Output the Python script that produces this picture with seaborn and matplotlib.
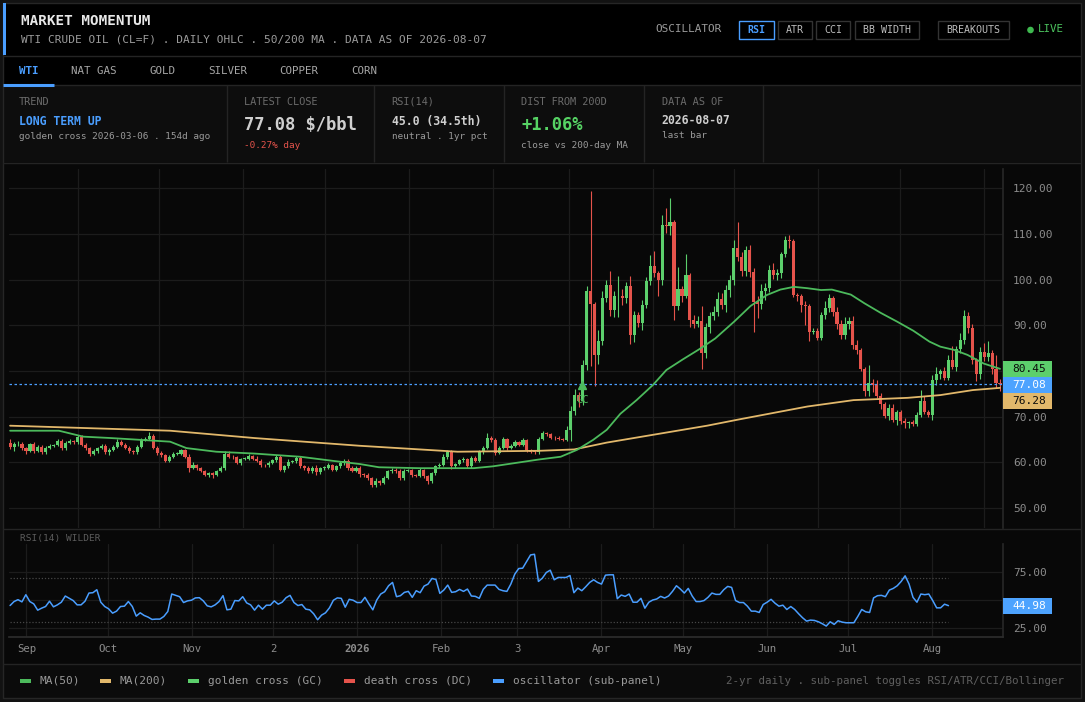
import numpy as np
import pandas as pd
import seaborn as sns
import matplotlib.pyplot as plt
from matplotlib.patches import Rectangle, Circle

W, H = 1085, 702
START = pd.Timestamp("2025-08-07")

# ---------------- data ----------------
first_open = 64.3

# daily closes, Aug 2025 -> Aug 7 2026
closes = [
    # Aug - mid Dec
    63.4, 63.9, 64.1, 63.1, 62.5, 63.9, 62.5, 63.4, 62.2, 63.2,
    63.6, 63.8, 64.7, 63.1, 64.2, 64.7, 64.4, 65.6, 63.8, 63.1,
    61.8, 62.5, 63.1, 63.6, 62.2, 62.7, 63.4, 64.5, 63.8, 63.2,
    62.5, 62.3, 63.4, 64.9, 65.1, 65.8, 63.2, 62.0, 61.6, 60.3,
    61.2, 61.8, 61.9, 62.6, 61.2, 58.8, 59.4, 58.7, 58.1, 57.2,
    57.6, 57.2, 58.1, 58.7, 61.9, 61.2, 61.1, 59.9, 60.7, 60.8,
    61.3, 60.7, 60.3, 59.4, 59.3, 59.9, 60.4, 61.2, 58.3, 59.1,
    60.1, 60.2, 60.9, 59.1, 58.8, 58.0, 58.8, 57.8, 58.7, 58.8,
    59.4, 58.3, 59.1, 59.8, 60.3, 58.7, 58.1, 58.8, 57.4,
    # mid Dec - late Apr
    57.2, 56.5, 55.0, 55.9, 55.5, 56.6, 58.0, 58.4, 58.1, 56.5,
    58.1, 58.2, 57.2, 57.0, 58.3, 56.9, 55.8, 57.6, 59.1, 59.4,
    61.2, 62.2, 59.1, 59.6, 60.4, 60.6, 59.1, 61.0, 60.3, 62.2,
    63.1, 65.3, 64.9, 62.0, 63.2, 65.1, 63.2, 63.6, 64.4, 63.8,
    64.8, 62.6, 62.3, 62.2, 65.1, 66.4, 66.1, 65.4, 65.2, 65.1,
    64.9, 67.1, 71.3, 74.7, 73.5, 81.3, 97.5, 94.6, 83.4, 86.6,
    95.9, 98.7, 93.4, 96.3, 96.5, 95.9, 98.5, 87.9, 92.3, 90.5,
    94.5, 99.7, 103.0, 101.4, 99.9, 112.0, 111.7, 112.6, 94.3, 98.0,
    96.5, 101.0, 91.2, 90.3, 91.0, 83.9, 89.7, 92.1, 93.0, 95.8,
    94.5,
    # late Apr - Aug
    97.7, 99.9, 106.9, 105.0, 101.8, 106.5, 101.6, 95.0, 94.6, 97.5,
    98.2, 102.1, 101.0, 101.4, 105.5, 108.7, 108.4, 96.6, 96.3, 94.5,
    94.1, 88.6, 88.8, 87.2, 92.3, 93.8, 95.9, 93.0, 90.2, 87.9,
    90.2, 91.0, 85.7, 84.6, 80.4, 75.5, 77.3, 76.9, 74.6, 72.7,
    70.2, 71.8, 69.2, 71.0, 69.1, 68.5, 68.8, 68.4, 70.4, 73.4,
    71.0, 70.3, 78.0, 79.3, 79.9, 78.5, 82.4, 80.9, 84.9, 86.8,
    92.1, 89.3, 82.4, 79.3, 84.2, 83.1, 84.0, 80.4, 77.29, 77.08,
]

# how far each high / low reaches past the candle body
wick_hi = [
    0.8, 0.6, 0.5, 0.4, 0.3, 0.3, 0.6, 0.3, 0.4, 0.4,
    0.3, 0.3, 0.4, 0.3, 0.5, 0.3, 0.2, 0.4, 0.3, 0.4,
    0.3, 0.4, 0.3, 0.3, 0.3, 0.4, 0.3, 0.5, 0.3, 0.4,
    0.3, 0.2, 0.4, 0.5, 0.4, 0.9, 0.3, 0.3, 0.5, 0.3,
    0.4, 0.4, 0.3, 0.4, 0.3, 0.5, 0.6, 0.3, 0.2, 0.3,
    0.3, 0.3, 0.3, 0.4, 0.5, 0.5, 0.4, 0.3, 0.3, 0.3,
    0.5, 0.3, 0.6, 0.4, 0.3, 0.3, 0.3, 0.4, 0.3, 0.3,
    0.5, 0.3, 0.5, 0.4, 0.4, 0.3, 0.3, 0.5, 0.3, 0.3,
    0.4, 0.3, 0.4, 0.5, 0.4, 0.3, 0.4, 0.3, 0.3,
    0.3, 0.4, 0.3, 0.6, 0.3, 0.3, 0.4, 0.3, 0.3, 0.4,
    0.4, 0.3, 0.3, 0.3, 0.4, 0.3, 0.3, 0.3, 0.3, 0.5,
    0.6, 0.5, 0.4, 0.3, 0.4, 0.5, 0.3, 0.4, 0.3, 0.4,
    0.4, 1.0, 0.5, 0.4, 0.3, 0.4, 0.3, 0.5, 0.4, 0.3,
    0.5, 0.3, 0.3, 0.4, 0.4, 0.5, 0.3, 0.4, 0.4, 0.5,
    0.3, 0.8, 1.0, 1.3, 0.7, 1.0, 1.0, 21.9, 0.4, 2.4,
    1.5, 1.2, 3.1, 1.2, 4.2, 1.5, 1.0, 2.2, 0.8, 0.5,
    1.0, 0.8, 2.4, 3.3, 0.4, 2.2, 3.6, 5.2, 0.5, 4.8,
    0.5, 4.5, 0.5, 1.0, 1.0, 3.1, 0.8, 0.8, 1.2, 1.5,
    1.2,
    1.0, 1.0, 1.8, 5.7, 1.0, 0.9, 1.0, 1.0, 1.5, 1.5,
    1.0, 1.0, 1.5, 0.8, 0.5, 0.9, 1.0, 0.4, 0.5, 0.5,
    0.8, 0.5, 0.5, 0.5, 0.5, 1.5, 1.0, 0.5, 1.0, 1.0,
    1.5, 0.8, 1.0, 1.0, 0.5, 0.5, 4.0, 1.0, 1.0, 0.5,
    0.5, 1.0, 1.0, 0.5, 0.5, 0.5, 0.3, 0.5, 0.5, 2.5,
    1.0, 0.5, 1.0, 1.5, 0.5, 1.0, 1.0, 3.0, 0.5, 1.5,
    1.3, 0.8, 1.0, 0.5, 1.0, 2.0, 2.5, 0.5, 3.0, 1.0,
]
wick_lo = [
    0.5, 0.9, 0.4, 0.4, 0.6, 0.3, 0.4, 0.3, 0.4, 0.4,
    0.3, 0.3, 0.3, 0.5, 0.4, 0.3, 0.3, 0.3, 0.3, 0.5,
    0.5, 0.3, 0.4, 0.3, 0.4, 0.6, 0.3, 0.3, 0.3, 0.3,
    0.4, 0.5, 0.5, 0.3, 0.3, 0.3, 0.3, 0.4, 0.4, 0.3,
    0.3, 0.3, 0.3, 0.3, 0.3, 0.9, 0.3, 0.4, 0.3, 0.3,
    0.5, 0.6, 0.3, 0.3, 0.3, 0.3, 0.5, 0.3, 0.4, 0.3,
    0.3, 0.3, 0.3, 0.5, 0.3, 0.3, 0.3, 0.3, 0.3, 0.4,
    0.4, 0.3, 0.3, 0.4, 0.5, 0.4, 0.4, 0.5, 0.3, 0.3,
    0.3, 0.3, 0.3, 0.3, 0.3, 0.3, 0.3, 0.3, 0.6,
    0.4, 0.3, 0.5, 0.4, 0.4, 0.3, 0.3, 0.3, 0.4, 0.5,
    0.3, 0.3, 0.4, 0.3, 0.3, 0.4, 0.5, 0.3, 0.3, 0.3,
    0.3, 0.4, 0.5, 0.3, 0.3, 0.4, 0.4, 0.3, 0.3, 0.3,
    0.3, 0.3, 0.4, 0.5, 0.3, 0.3, 0.5, 0.3, 0.3, 0.3,
    0.3, 0.4, 0.3, 0.4, 0.3, 0.3, 0.3, 0.3, 0.3, 0.3,
    0.3, 0.3, 2.5, 1.0, 1.5, 1.0, 1.0, 13.6, 6.8, 1.9,
    1.0, 0.8, 1.4, 1.5, 4.4, 1.5, 1.0, 2.1, 1.5, 1.0,
    1.5, 0.8, 1.0, 0.8, 3.5, 1.0, 1.5, 2.0, 3.1, 1.0,
    1.5, 0.5, 1.5, 1.0, 0.8, 3.5, 1.0, 1.5, 1.0, 1.0,
    1.0,
    1.5, 1.5, 1.0, 1.0, 1.0, 1.0, 1.0, 6.4, 3.0, 1.0,
    2.0, 1.0, 0.8, 1.0, 1.0, 0.5, 1.5, 0.4, 1.0, 1.5,
    4.0, 2.0, 0.5, 0.5, 0.5, 1.0, 1.0, 1.0, 1.0, 1.0,
    1.0, 1.0, 1.0, 1.0, 0.5, 1.0, 1.0, 1.5, 0.5, 1.0,
    0.5, 1.0, 0.5, 1.0, 0.7, 1.0, 1.0, 0.5, 0.5, 0.5,
    0.5, 0.5, 1.0, 1.0, 1.0, 0.5, 0.5, 0.5, 1.0, 1.0,
    1.0, 1.0, 1.0, 1.5, 1.0, 1.0, 1.0, 1.0, 1.0, 1.5,
]

# moving averages, sampled (day offset from first bar, value)
ma50_day = [0, 18, 27, 37, 59, 65, 76, 90, 107, 119, 129, 136, 151, 171, 178, 195,
            203, 209, 215, 220, 225, 231, 237, 242, 248, 254, 260, 267, 273, 279,
            284, 289, 294, 299, 303, 310, 315, 321, 327, 333, 339, 343, 348, 353,
            359, 365]
ma50 = [66.9, 66.9, 65.6, 65.3, 64.5, 63.1, 62.3, 61.9, 61.2, 60.3, 59.6, 58.9, 58.7,
        58.7, 59.1, 60.6, 61.2, 62.7, 64.9, 67.1, 70.6, 73.6, 76.9, 80.2, 82.5, 84.7,
        87.1, 90.8, 94.2, 96.6, 97.8, 98.4, 98.1, 97.7, 97.8, 96.7, 94.8, 92.7, 90.8,
        88.8, 86.4, 85.3, 84.6, 83.5, 81.6, 80.45]
ma200_day = [0, 59, 90, 129, 165, 195, 208, 220, 237, 257, 269, 294, 311, 331, 343,
             355, 365]
ma200 = [68.0, 66.9, 65.3, 63.6, 62.3, 62.5, 62.8, 64.3, 66.0, 68.0, 69.4, 72.2, 73.6,
         74.1, 74.7, 75.8, 76.28]

# RSI(14) Wilder, from 2025-08-26 to the last bar
rsi_first = "2025-08-26"
rsi = [
    45.1, 48.7, 50.4, 48.4, 54.9, 48.7, 46.6, 40.9, 42.7, 44.2,
    49.0, 43.9, 45.7, 48.1, 53.7, 51.6, 49.6, 45.7, 45.7, 49.0,
    56.4, 56.7, 59.4, 48.1, 44.2, 42.1, 38.2, 40.0, 44.2, 44.5,
    48.7, 44.2, 35.5, 38.5, 36.1, 34.6, 32.5, 32.8, 32.8, 35.2,
    39.7, 55.5, 54.3, 53.1, 47.8, 49.3, 49.9, 52.0, 52.2, 49.3,
    44.8, 43.9, 45.7, 48.7, 54.0, 41.2, 41.8, 49.6, 49.3, 53.1,
    47.5, 45.7, 40.9, 45.4, 41.8, 45.4, 45.4, 49.3, 46.3, 48.1,
    52.2, 54.3, 47.8, 45.1, 46.0, 41.8, 41.2, 37.6, 32.2, 36.4,
    38.5, 43.0, 49.9, 52.0, 51.6, 43.6, 50.7, 49.9, 47.8, 47.8,
    52.5, 46.6, 41.2, 50.1, 55.5, 57.6, 63.0, 66.0, 53.1, 54.0,
    57.0, 57.9, 52.5, 58.5, 56.7, 62.7, 64.5, 69.6, 68.7, 56.1,
    59.1, 63.6, 57.0, 57.6, 59.7, 57.9, 60.0, 53.7, 53.4, 51.6,
    59.7, 63.6, 63.6, 63.6, 59.7, 58.5, 57.9, 64.5, 73.5, 78.6,
    78.9, 84.9, 90.9, 91.5, 66.9, 69.9, 75.0, 77.1, 68.4, 70.5,
    70.5, 70.5, 72.3, 56.7, 60.9, 58.5, 62.1, 66.0, 68.4, 66.0,
    64.5, 72.6, 72.9, 72.9, 51.3, 54.6, 53.4, 55.5, 48.1, 48.1,
    51.6, 42.7, 48.1, 50.1, 51.0, 53.4, 51.9, 53.7, 57.9, 63.0,
    60.0, 56.4, 60.6, 53.7, 48.7, 48.7, 49.6, 52.5, 56.4, 55.2,
    55.2,
    59.4, 62.4, 61.5, 49.6, 47.8, 47.8, 44.5, 40.0, 40.0, 38.8,
    46.0, 48.1, 50.7, 47.2, 44.5, 45.4, 41.5, 44.2, 41.5, 37.6,
    34.0, 31.0, 31.9, 31.6, 30.4, 28.6, 26.5, 30.4, 28.0, 31.3,
    30.1, 29.5, 29.5, 29.5, 35.2, 41.5, 39.4, 38.8, 52.0, 54.0,
    54.3, 53.1, 59.1, 60.6, 63.0, 66.9, 72.0, 64.5, 52.5, 48.1,
    55.5, 54.9, 55.5, 49.6, 43.0, 43.0, 46.3, 44.98,
]

month_labels = ["Sep", "Oct", "Nov", "2", "2026", "Feb", "3", "Apr", "May", "Jun", "Jul", "Aug"]
gc_date = "2026-03-06"
gc_price = 76.9

# ---------------- colours ----------------
GREEN = "#5ccf6c"
MA_GREEN = "#4cba5c"
RED = "#e5534b"
BLUE = "#4a9eff"
TAN = "#e2b86b"
GRID = "#1c1c1c"
TICK = "#8c8c8c"

sns.set_theme(style="dark")
plt.rcParams["font.family"] = ["DejaVu Sans Mono", "DejaVu Sans"]

fig = plt.figure(figsize=(W / 100, H / 100), dpi=100)
fig.patch.set_facecolor("#121212")

# pixel-space background layer
bg = fig.add_axes([0, 0, 1, 1], zorder=0)
bg.set_xlim(0, W)
bg.set_ylim(H, 0)
bg.axis("off")


def box(a, x0, y0, x1, y1, fc, ec="none", lw=1.0):
    a.add_patch(Rectangle((x0, y0), x1 - x0, y1 - y0, facecolor=fc, edgecolor=ec, lw=lw))


def hline(y, x0=3, x1=1081, c="#242424", lw=1.0):
    bg.plot([x0, x1], [y, y], color=c, lw=lw, solid_capstyle="butt")


def vline(x, y0, y1, c="#242424", lw=1.0):
    bg.plot([x, x], [y0, y1], color=c, lw=lw, solid_capstyle="butt")


def txt(x, y, s, size=7.5, color="#9a9a9a", **kw):
    bg.text(x, y, s, fontsize=size, color=color, va="center", **kw)


box(bg, 3, 3, 1081, 85, "#000000")
box(bg, 3, 85, 1081, 162, "#0d0d0d")
box(bg, 3, 162, 1081, 664, "#080808")
box(bg, 3, 664, 1081, 698, "#0b0b0b")
box(bg, 3, 3, 1081, 698, "none", ec="#262626")
box(bg, 3, 3, 5.5, 55, BLUE)
hline(56)
hline(85)
hline(162.5)
hline(529)
hline(664)
hline(85, 3, 54, c=BLUE, lw=2.2)
for xs in [227, 374, 504, 644, 762.5]:
    vline(xs, 85, 162)

# header
txt(21.3, 20.7, "MARKET MOMENTUM", size=10.3, color="#e8e8e8", fontweight="bold")
txt(21.3, 40, "WTI CRUDE OIL (CL=F) . DAILY OHLC . 50/200 MA . DATA AS OF 2026-08-07",
    size=8.0, color="#9c9c9c")
txt(655, 29.5, "OSCILLATOR", size=7.9, color="#9a9a9a")
buttons = [("RSI", 739, 774), ("ATR", 778, 812), ("CCI", 816, 850),
           ("BB WIDTH", 855, 919), ("BREAKOUTS", 938, 1008.5)]
for label, x0, x1 in buttons:
    active = label == "RSI"
    box(bg, x0, 21.3, x1, 38.7, "none", ec=BLUE if active else "#333333", lw=1.0)
    bg.text((x0 + x1) / 2, 30.2, label, fontsize=7.2, ha="center", va="center",
            color=BLUE if active else "#bdbdbd", fontweight="bold" if active else "normal")
bg.add_patch(Circle((1030.5, 30), 2.6, color="#3fb950"))
txt(1037.7, 29.5, "LIVE", size=7.8, color="#4cc35e")

# market tabs
tabs = [("WTI", 19), ("NAT GAS", 70.6), ("GOLD", 149), ("SILVER", 208),
        ("COPPER", 279.6), ("CORN", 351.6)]
for label, x in tabs:
    txt(x, 70.7, label, size=7.8, color=BLUE if label == "WTI" else "#a6a6a6",
        fontweight="bold" if label == "WTI" else "normal")

# stat cards
LBL = "#6b6b6b"
txt(19, 101.7, "TREND", size=7.4, color=LBL)
txt(19, 121.7, "LONG TERM UP", size=8.3, color=BLUE, fontweight="bold")
txt(19, 136.7, "golden cross 2026-03-06 . 154d ago", size=6.75, color="#9a9a9a")
txt(244.5, 101.7, "LATEST CLOSE", size=7.4, color=LBL)
txt(244.5, 124.5, "77.08 $/bbl", size=12.3, color="#cfcfcf", fontweight="bold")
txt(244.5, 145, "-0.27% day", size=6.75, color=RED)
txt(391.5, 101.7, "RSI(14)", size=7.4, color=LBL)
txt(391.5, 121.7, "45.0 (34.5th)", size=8.3, color="#cfcfcf", fontweight="bold")
txt(391.5, 136.7, "neutral . 1yr pct", size=6.75, color="#9a9a9a")
txt(521, 101.7, "DIST FROM 200D", size=7.4, color=LBL)
txt(521, 124.5, "+1.06%", size=12.3, color="#56d364", fontweight="bold")
txt(521, 145, "close vs 200-day MA", size=6.75, color="#9a9a9a")
txt(661.7, 101.7, "DATA AS OF", size=7.4, color=LBL)
txt(661.7, 120.7, "2026-08-07", size=8.3, color="#cfcfcf", fontweight="bold")
txt(661.7, 135.3, "last bar", size=6.75, color="#9a9a9a")

# ---------------- main price panel ----------------
ax = fig.add_axes([9 / W, 1 - 528 / H, 994 / W, 359 / H], zorder=2)
ax.set_facecolor("#080808")

c = np.array(closes)
o = np.r_[first_open, c[:-1]]
hi = np.maximum(o, c) + np.array(wick_hi)
lo = np.minimum(o, c) - np.array(wick_lo)
day = np.linspace(0, 365, len(c))
col = np.where(c >= o, GREEN, RED)

ax.vlines(day, lo, hi, colors=col, lw=0.8, zorder=3)
ax.bar(day, np.maximum(np.abs(c - o), 0.15), bottom=np.minimum(o, c), width=1.15,
       color=col, linewidth=0, zorder=4)

sns.lineplot(x=ma200_day, y=ma200, ax=ax, color=TAN, lw=1.3, zorder=5)
sns.lineplot(x=ma50_day, y=ma50, ax=ax, color=MA_GREEN, lw=1.3, zorder=5)
ax.axhline(closes[-1], color=BLUE, lw=0.9, ls=(0, (2, 2)), zorder=6)

gc_day = (pd.Timestamp(gc_date) - START).days
ax.plot([gc_day], [gc_price], marker="^", color=MA_GREEN, markersize=6, zorder=7)
ax.annotate("GC", (gc_day, gc_price), xytext=(0, -11), textcoords="offset points",
            ha="center", va="center", color=MA_GREEN, fontsize=7.5, zorder=7)

months = pd.date_range("2025-09-01", periods=12, freq="MS")
month_days = [(m - START).days for m in months]

ax.set_xlim(-0.4, 366.1)
ax.set_ylim(45.6, 124.2)
ax.set_xticks(month_days)
ax.set_xticklabels([])
yt = list(range(50, 121, 10))
ax.set_yticks(yt)
# the 80 label sits under the last-value tags
ax.set_yticklabels(["" if v == 80 else f"{v:.2f}" for v in yt])
ax.yaxis.tick_right()
ax.tick_params(axis="both", length=0, colors=TICK, labelsize=8, pad=7.2)
ax.grid(True, color=GRID, lw=0.9)
ax.set_axisbelow(True)
for s in ax.spines.values():
    s.set_visible(False)
ax.spines["right"].set_visible(True)
ax.spines["right"].set_color("#262626")
ax.set_xlabel("")
ax.set_ylabel("")

# ---------------- RSI sub-panel ----------------
rax = fig.add_axes([9 / W, 1 - 637 / H, 994 / W, 93 / H], zorder=2)
rax.set_facecolor("#080808")
rsi_day = np.linspace((pd.Timestamp(rsi_first) - START).days, 365, len(rsi))
rax.hlines([70, 30], rsi_day[0], rsi_day[-1], colors="#474747", lw=0.9, ls=(0, (1, 1.5)), zorder=2)
sns.lineplot(x=rsi_day, y=rsi, ax=rax, color=BLUE, lw=1.1, zorder=4)
rax.set_xlim(18.6, 385.1)
rax.set_ylim(16.6, 100.8)
rax.set_yticks([25, 50, 75])
rax.set_yticklabels(["25.00", "", "75.00"])
rax.yaxis.tick_right()
rax.set_xticks(month_days)
rax.set_xticklabels(month_labels)
for lab in rax.get_xticklabels():
    if lab.get_text() == "2026":
        lab.set_fontweight("bold")
        lab.set_color("#b0b0b0")
rax.tick_params(axis="y", length=0, colors=TICK, labelsize=8, pad=7.2)
rax.tick_params(axis="x", length=0, colors=TICK, labelsize=7.7, pad=5)
rax.grid(True, color=GRID, lw=0.9)
rax.set_axisbelow(True)
for s in rax.spines.values():
    s.set_visible(False)
rax.spines["right"].set_visible(True)
rax.spines["right"].set_color("#262626")
rax.spines["bottom"].set_visible(True)
rax.spines["bottom"].set_color("#2c2c2c")
rax.set_xlabel("")
rax.set_ylabel("")
txt(20.5, 538, "RSI(14) WILDER", size=6.8, color="#5c5c5c")

# ---------------- last-value tags (overlay) ----------------
ov = fig.add_axes([0, 0, 1, 1], zorder=10)
ov.set_xlim(0, W)
ov.set_ylim(H, 0)
ov.axis("off")
ov.patch.set_alpha(0)


def to_px(a, v):
    return H - a.transData.transform((a.get_xlim()[0], v))[1]


tags = sorted([(ma50[-1], GREEN, "#0b0b0b"), (closes[-1], "#4da3ff", "#ffffff"),
               (ma200[-1], TAN, "#0b0b0b")], key=lambda t: -t[0])
prev = -1e9
for val, fc, tc in tags:
    yc = max(to_px(ax, val), prev + 16)
    prev = yc
    box(ov, 1003, yc - 8, 1052, yc + 8, fc)
    ov.text(1012, yc, f"{val:.2f}", fontsize=8, color=tc, va="center")

yc = to_px(rax, rsi[-1])
box(ov, 1003, yc - 8, 1052, yc + 8, "#4da3ff")
ov.text(1012, yc, f"{rsi[-1]:.2f}", fontsize=8, color="#ffffff", va="center")

# ---------------- legend row ----------------
legend = [("MA(50)", MA_GREEN, 19.5), ("MA(200)", TAN, 100), ("golden cross (GC)", GREEN, 188),
          ("death cross (DC)", RED, 344), ("oscillator (sub-panel)", BLUE, 492.7)]
for label, colr, x in legend:
    box(bg, x, 678.7, x + 11, 682.7, colr)
    txt(x + 20, 680.7, label, size=8, color="#9a9a9a")
txt(1063.7, 680.7, "2-yr daily . sub-panel toggles RSI/ATR/CCI/Bollinger", size=7.8,
    color="#5f5f5f", ha="right")

fig.savefig("out.png", dpi=100, facecolor=fig.get_facecolor())
